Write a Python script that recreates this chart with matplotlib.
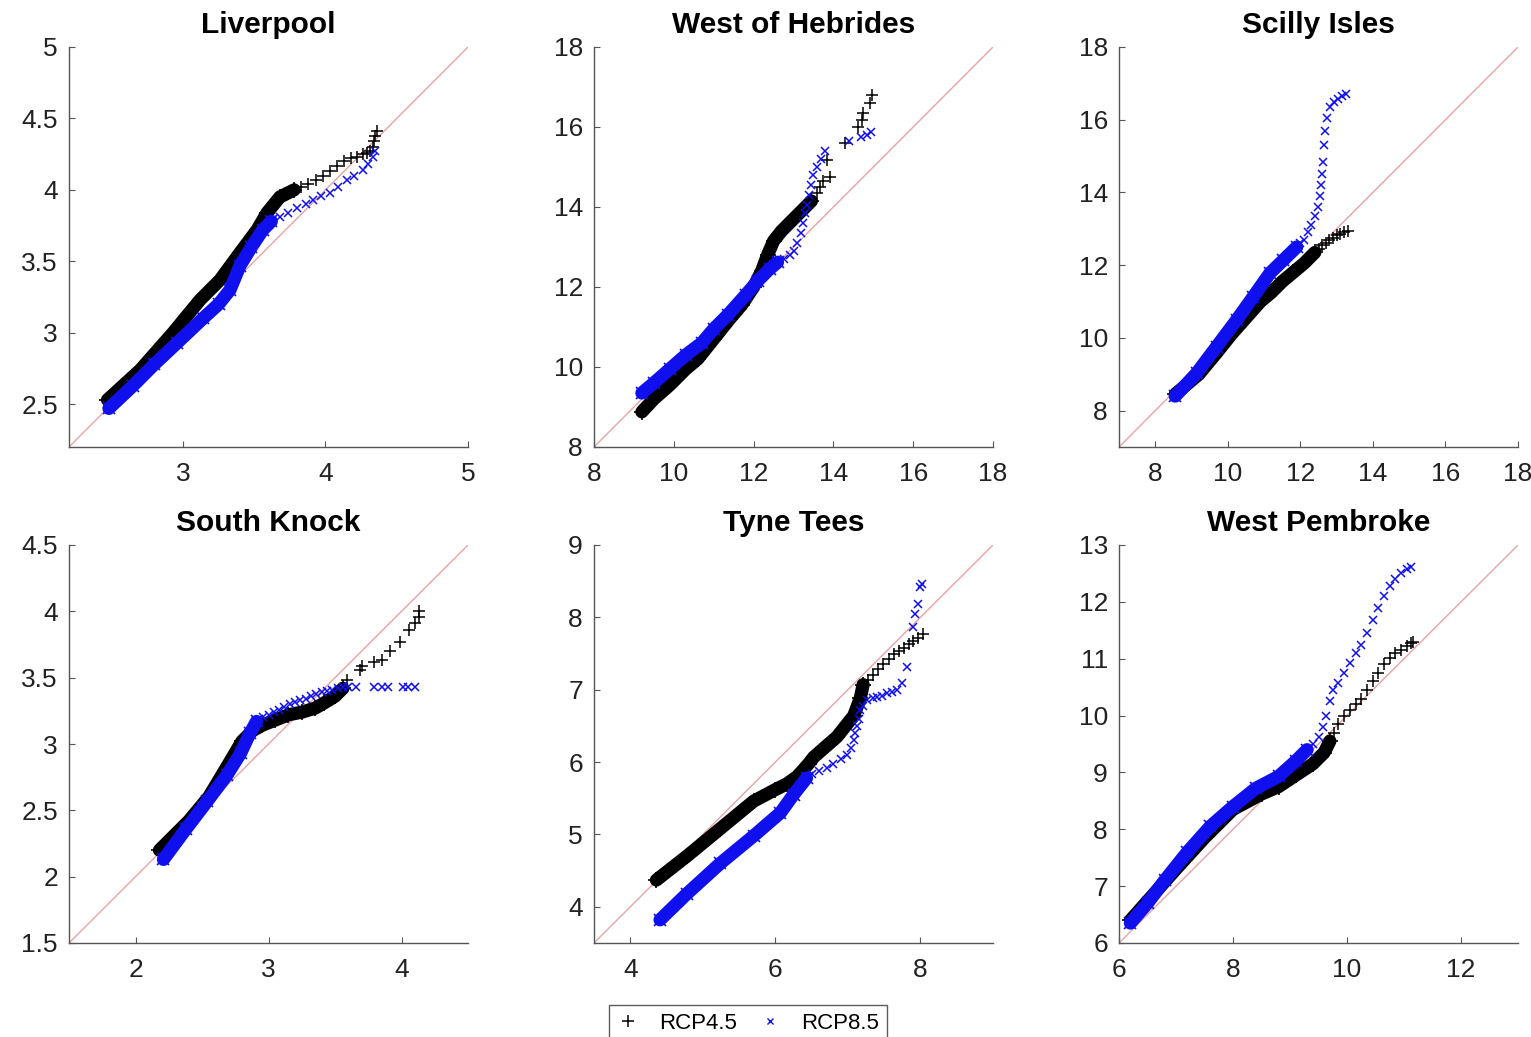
import matplotlib
matplotlib.use("Agg")
import matplotlib.pyplot as plt
from matplotlib.lines import Line2D

plt.rcParams["font.family"] = ["Liberation Sans", "DejaVu Sans"]

# ---- data: dense "band" runs and sparse "tail" markers ----
# Liverpool
liv_45_band = [(2.47, 2.53), (2.70, 2.74), (2.93, 3.00), (3.12, 3.23), (3.26, 3.37),
               (3.40, 3.56), (3.52, 3.72), (3.59, 3.84), (3.68, 3.95), (3.78, 4.00)]
liv_45_tail = [(3.83, 4.02), (3.88, 4.04), (3.93, 4.07), (3.98, 4.10), (4.03, 4.13),
               (4.08, 4.17), (4.13, 4.20), (4.18, 4.22), (4.22, 4.23), (4.26, 4.25),
               (4.29, 4.26), (4.31, 4.27), (4.33, 4.30), (4.34, 4.34), (4.35, 4.38),
               (4.36, 4.41)]
liv_85_band = [(2.48, 2.47), (2.65, 2.63), (2.80, 2.78), (2.96, 2.93), (3.14, 3.10),
               (3.25, 3.20), (3.33, 3.30), (3.40, 3.47), (3.48, 3.60), (3.56, 3.72),
               (3.62, 3.78)]
liv_85_tail = [(3.68, 3.81), (3.74, 3.84), (3.80, 3.87), (3.86, 3.90), (3.91, 3.93),
               (3.97, 3.96), (4.03, 3.98), (4.09, 4.02), (4.15, 4.07), (4.20, 4.10),
               (4.26, 4.14), (4.30, 4.18), (4.33, 4.23), (4.35, 4.27)]

# West of Hebrides
heb_45_band = [(9.2, 8.88), (9.5, 9.2), (9.9, 9.55), (10.3, 9.95), (10.6, 10.2),
               (11.0, 10.7), (11.4, 11.2), (11.7, 11.55), (12.0, 12.0), (12.2, 12.4),
               (12.35, 12.8), (12.5, 13.15), (12.7, 13.4), (12.9, 13.6), (13.1, 13.8),
               (13.3, 14.0), (13.45, 14.15)]
heb_45_tail = [(13.58, 14.34), (13.66, 14.5), (13.75, 14.65), (13.91, 14.76),
               (13.83, 15.18), (14.29, 15.6), (14.62, 16.0), (14.71, 16.18),
               (14.75, 16.35), (14.92, 16.6), (14.96, 16.8)]
heb_85_band = [(9.2, 9.35), (9.5, 9.6), (9.9, 9.95), (10.3, 10.3), (10.7, 10.6),
               (11.0, 10.95), (11.35, 11.3), (11.8, 11.8), (12.1, 12.15),
               (12.4, 12.45), (12.6, 12.62)]
heb_85_tail = [(12.75, 12.7), (12.9, 12.8), (13.0, 12.9), (13.1, 13.1), (13.2, 13.35),
               (13.25, 13.6), (13.3, 13.85), (13.35, 14.05), (13.4, 14.3),
               (13.45, 14.55), (13.5, 14.8), (13.6, 15.0), (13.7, 15.2), (13.8, 15.4),
               (14.4, 15.65), (14.7, 15.75), (14.85, 15.8), (14.95, 15.87)]

# Scilly Isles
sci_45_band = [(8.55, 8.45), (9.2, 9.0), (9.7, 9.6), (10.1, 10.1), (10.5, 10.55),
               (10.9, 11.0), (11.2, 11.25), (11.5, 11.55), (11.8, 11.8),
               (12.1, 12.05), (12.4, 12.35)]
sci_45_tail = [(12.5, 12.45), (12.6, 12.55), (12.7, 12.62), (12.8, 12.7),
               (12.9, 12.76), (13.0, 12.82), (13.1, 12.87), (13.2, 12.9), (13.3, 12.93)]
sci_85_band = [(8.55, 8.4), (9.14, 9.03), (9.69, 9.76), (10.24, 10.49),
               (10.70, 11.13), (11.16, 11.78), (11.53, 12.14), (11.9, 12.5)]
sci_85_tail = [(12.0, 12.6), (12.1, 12.7), (12.2, 12.9), (12.3, 13.1), (12.4, 13.35),
               (12.48, 13.6), (12.54, 13.9), (12.58, 14.2), (12.6, 14.5),
               (12.63, 14.85), (12.66, 15.3), (12.68, 15.7), (12.73, 16.05),
               (12.82, 16.35), (12.92, 16.5), (13.05, 16.58), (13.15, 16.65),
               (13.25, 16.7)]

# South Knock
skn_45_band = [(2.18, 2.2), (2.4, 2.42), (2.55, 2.6), (2.7, 2.85), (2.8, 3.02),
               (2.88, 3.1), (2.95, 3.14), (3.05, 3.18), (3.15, 3.22), (3.25, 3.24),
               (3.35, 3.27), (3.42, 3.31), (3.5, 3.36), (3.56, 3.42)]
skn_45_tail = [(3.59, 3.48), (3.69, 3.56), (3.70, 3.59), (3.79, 3.62), (3.85, 3.63),
               (3.91, 3.70), (3.99, 3.77), (4.06, 3.86), (4.10, 3.91), (4.13, 3.96),
               (4.13, 4.0)]
skn_85_band = [(2.21, 2.13), (2.38, 2.36), (2.54, 2.57), (2.69, 2.77), (2.79, 2.93),
               (2.86, 3.08), (2.91, 3.17)]
skn_85_tail = [(2.96, 3.2), (3.0, 3.22), (3.04, 3.24), (3.08, 3.26), (3.12, 3.28),
               (3.16, 3.3), (3.2, 3.32), (3.24, 3.33), (3.28, 3.34), (3.32, 3.36),
               (3.36, 3.38), (3.4, 3.39), (3.44, 3.4), (3.48, 3.41), (3.52, 3.42),
               (3.56, 3.43), (3.6, 3.43), (3.66, 3.43), (3.79, 3.43), (3.85, 3.43),
               (3.90, 3.43), (4.01, 3.43), (4.05, 3.43), (4.10, 3.43)]

# Tyne Tees
tyn_45_band = [(4.36, 4.37), (4.78, 4.70), (5.24, 5.08), (5.70, 5.46), (6.0, 5.62),
               (6.16, 5.7), (6.3, 5.8), (6.39, 5.9), (6.46, 5.98), (6.53, 6.07),
               (6.85, 6.35), (7.08, 6.64), (7.17, 6.88), (7.21, 7.07)]
tyn_45_tail = [(7.28, 7.14), (7.35, 7.21), (7.42, 7.28), (7.49, 7.35), (7.56, 7.42),
               (7.63, 7.49), (7.70, 7.54), (7.77, 7.58), (7.84, 7.63), (7.90, 7.68),
               (7.97, 7.72), (8.04, 7.77)]
tyn_85_band = [(4.41, 3.82), (4.78, 4.18), (5.24, 4.60), (5.70, 4.98), (6.07, 5.3),
               (6.25, 5.55), (6.43, 5.78)]
tyn_85_tail = [(6.5, 5.84), (6.6, 5.88), (6.71, 5.92), (6.8, 5.98), (6.9, 6.04),
               (6.99, 6.1), (7.04, 6.2), (7.08, 6.31), (7.1, 6.4), (7.12, 6.50),
               (7.15, 6.6), (7.17, 6.72), (7.21, 6.78), (7.26, 6.86), (7.35, 6.88),
               (7.4, 6.9), (7.47, 6.92), (7.54, 6.95), (7.61, 6.97), (7.68, 7.0),
               (7.74, 7.09), (7.81, 7.32), (7.9, 7.87), (7.93, 8.05), (7.97, 8.19),
               (8.0, 8.42), (8.02, 8.46)]

# West Pembroke
pem_45_band = [(6.2, 6.4), (6.6, 6.85), (7.0, 7.3), (7.5, 7.85), (8.0, 8.35),
               (8.5, 8.62), (8.8, 8.75), (9.1, 8.95), (9.4, 9.15), (9.6, 9.35),
               (9.7, 9.55)]
pem_45_tail = [(9.78, 9.7), (9.85, 9.85), (9.95, 10.0), (10.05, 10.1), (10.15, 10.2),
               (10.25, 10.3), (10.35, 10.45), (10.45, 10.6), (10.55, 10.75),
               (10.65, 10.9), (10.75, 11.02), (10.85, 11.1), (10.95, 11.15),
               (11.05, 11.22), (11.12, 11.27), (11.15, 11.3)]
pem_85_band = [(6.2, 6.35), (6.5, 6.7), (6.8, 7.1), (7.2, 7.6), (7.6, 8.05),
               (8.0, 8.4), (8.4, 8.72), (8.8, 8.93), (9.1, 9.2), (9.3, 9.4)]
pem_85_tail = [(9.4, 9.5), (9.5, 9.62), (9.58, 9.8), (9.64, 10.0), (9.7, 10.25),
               (9.76, 10.45), (9.85, 10.58), (9.95, 10.75), (10.05, 10.93),
               (10.15, 11.1), (10.25, 11.25), (10.35, 11.45), (10.45, 11.68),
               (10.55, 11.9), (10.65, 12.1), (10.75, 12.28), (10.85, 12.4),
               (10.95, 12.5), (11.05, 12.57), (11.12, 12.62)]

titles = ["Liverpool", "West of Hebrides", "Scilly Isles",
          "South Knock", "Tyne Tees", "West Pembroke"]
limits = [(2.2, 5), (8, 18), (7, 18), (1.5, 4.5), (3.5, 9), (6, 13)]
xticks = [[3, 4, 5], range(8, 19, 2), range(8, 19, 2), [2, 3, 4], [4, 6, 8],
          [6, 8, 10, 12]]
yticks = [[2.5, 3, 3.5, 4, 4.5, 5], range(8, 19, 2), range(8, 19, 2),
          [1.5, 2, 2.5, 3, 3.5, 4, 4.5], range(4, 10), range(6, 14)]
series = [(liv_45_band, liv_45_tail, liv_85_band, liv_85_tail),
          (heb_45_band, heb_45_tail, heb_85_band, heb_85_tail),
          (sci_45_band, sci_45_tail, sci_85_band, sci_85_tail),
          (skn_45_band, skn_45_tail, skn_85_band, skn_85_tail),
          (tyn_45_band, tyn_45_tail, tyn_85_band, tyn_85_tail),
          (pem_45_band, pem_45_tail, pem_85_band, pem_85_tail)]

BLACK = "#000000"
BLUE = "#1010ee"
DIAG = "#e9a3a3"
AXC = "#555555"


def draw(ax, band, tail, color, marker, ms):
    bx, by = zip(*band)
    ax.plot(bx, by, color=color, lw=9.5, solid_capstyle="round",
            solid_joinstyle="round", zorder=2)
    ax.plot(bx, by, ls="none", marker=marker, ms=ms + 3, mew=1.2, color=color, zorder=2)
    tx, ty = zip(*tail)
    ax.plot(tx, ty, ls="none", marker=marker, ms=ms, mew=1.1, color=color, zorder=3)


fig = plt.figure(figsize=(15.31, 10.37), dpi=100)
lefts = [69, 594, 1119]
tops = [47, 545]
W, H = 1531, 1037

for i in range(6):
    r, c = divmod(i, 3)
    h = 400 if r == 0 else 398
    ax = fig.add_axes([lefts[c] / W, 1 - (tops[r] + h) / H, 399 / W, h / H])
    lo, hi = limits[i]
    ax.plot([lo, hi], [lo, hi], color=DIAG, lw=1.0, zorder=1)
    b45, t45, b85, t85 = series[i]
    draw(ax, b45, t45, BLACK, "+", 9)
    draw(ax, b85, t85, BLUE, "x", 6)
    ax.set_xlim(lo, hi)
    ax.set_ylim(lo, hi)
    ax.set_xticks(list(xticks[i]))
    ax.set_yticks(list(yticks[i]))
    ax.set_xticklabels([f"{v:g}" for v in xticks[i]])
    ax.set_yticklabels([f"{v:g}" for v in yticks[i]])
    for s in ("top", "right"):
        ax.spines[s].set_visible(False)
    for s in ("left", "bottom"):
        ax.spines[s].set_color(AXC)
        ax.spines[s].set_linewidth(1.0)
    ax.tick_params(direction="in", length=4, color=AXC, labelsize=19,
                   labelcolor="#222222")
    ax.tick_params(axis="x", pad=11)
    ax.tick_params(axis="y", pad=8)
    ax.set_title(titles[i], fontsize=21.5, fontweight="bold", pad=10)

handles = [Line2D([0], [0], ls="none", marker="+", color=BLACK, ms=9, mew=1.1),
           Line2D([0], [0], ls="none", marker="x", color=BLUE, ms=5, mew=1.0)]
leg = fig.legend(handles, ["RCP4.5", "RCP8.5"], loc="upper center",
                 bbox_to_anchor=(0.4886, 0.0309), ncol=2, fontsize=16,
                 frameon=True, fancybox=False, edgecolor="#333333",
                 handlelength=1.0, handletextpad=0.9, columnspacing=1.0,
                 borderpad=0.35, borderaxespad=0.0)
leg.get_frame().set_linewidth(1.0)

fig.savefig("out.png", dpi=100)
